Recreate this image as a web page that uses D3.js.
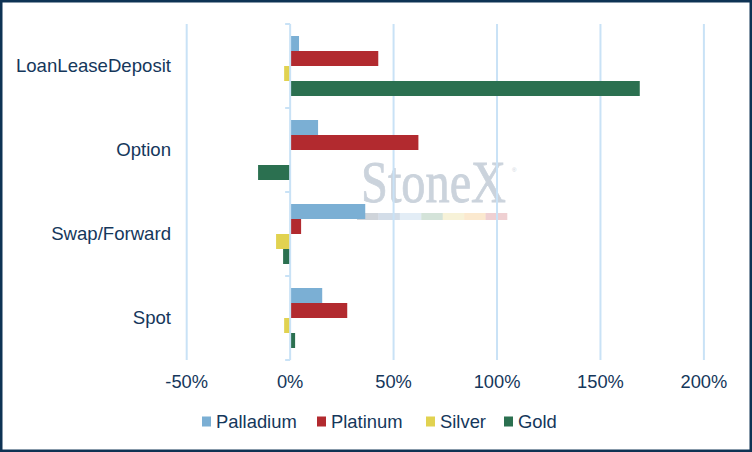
<!DOCTYPE html>
<html>
<head>
<meta charset="utf-8">
<script src="https://cdn.jsdelivr.net/npm/d3@7"></script>
<style>
  body { margin: 0; background: #fff; }
  svg { display: block; font-family: "Liberation Sans", Arial, sans-serif; }
</style>
</head>
<body>
<svg id="chart" width="752" height="452"></svg>
<script>
const categories = ["LoanLeaseDeposit", "Option", "Swap/Forward", "Spot"]
const metals = ["Palladium", "Platinum", "Silver", "Gold"]
const metalColors = ["#7bafd4", "#b22a2f", "#e1d250", "#2b7050"]

// change in %, one array per metal, in category order
const palladium = [4.3, 13.5, 36.3, 15.5]
const platinum = [42.6, 62, 5.3, 27.6]
const silver = [-2.9, 0, -6.8, -2.9]
const gold = [169, -15.5, -3.4, 2.4]

const xTicks = [-50, 0, 50, 100, 150, 200]

const series = [palladium, platinum, silver, gold]

const navy = "#15375b"
const gridColor = "#c9e2f6"

const svg = d3.select("#chart")

const x = d3.scaleLinear().domain([-50, 200]).range([186.7, 703.9])
const y = d3.scaleBand().domain(categories).range([24, 360])
const ySub = d3.scaleBand().domain(metals).range([12, 72])

// watermark, sits behind grid and bars
const wm = svg.append("g").attr("class", "watermark")
wm.append("text")
  .attr("x", 361).attr("y", 202)
  .attr("font-family", "'Liberation Serif', 'Times New Roman', serif")
  .attr("font-size", 59)
  .attr("textLength", 145)
  .attr("lengthAdjust", "spacingAndGlyphs")
  .attr("fill", "#cbd3dc")
  .attr("stroke", "#cbd3dc")
  .attr("stroke-width", 0.8)
  .text("StoneX")
wm.append("text")
  .attr("x", 512).attr("y", 172)
  .attr("font-size", 6)
  .attr("fill", "#cbd3dc")
  .text("®")
const stripe = ["#cfd4da", "#d3dde8", "#e3edf6", "#d4e3d9", "#f7f2d8", "#fbe9cf", "#efd0d2"]
wm.selectAll("rect")
  .data(stripe)
  .join("rect")
    .attr("x", (d, i) => 357 + i * 150 / 7)
    .attr("y", 213)
    .attr("width", 150 / 7 + 0.3)
    .attr("height", 7)
    .attr("fill", d => d)

// vertical gridlines
svg.append("g")
  .selectAll("line")
  .data(xTicks.filter(d => d !== 0))
  .join("line")
    .attr("x1", d => x(d)).attr("x2", d => x(d))
    .attr("y1", 24).attr("y2", 360)
    .attr("stroke", gridColor)
    .attr("stroke-width", 2)

// bars
const rows = []
categories.forEach((c, ci) => {
  metals.forEach((m, mi) => {
    rows.push({ cat: c, metal: m, value: series[mi][ci], color: metalColors[mi] })
  })
})

svg.append("g")
  .selectAll("rect")
  .data(rows.filter(d => d.value !== 0))
  .join("rect")
    .attr("x", d => x(Math.min(0, d.value)))
    .attr("y", d => y(d.cat) + ySub(d.metal))
    .attr("width", d => Math.abs(x(d.value) - x(0)))
    .attr("height", ySub.bandwidth())
    .attr("fill", d => d.color)

// category axis at zero
const yAxis = svg.append("g")
  .attr("transform", `translate(${x(0)},0)`)
yAxis.append("line")
  .attr("x1", 0).attr("x2", 0)
  .attr("y1", 24).attr("y2", 360)
  .attr("stroke", gridColor).attr("stroke-width", 2)
yAxis.selectAll("line.tick")
  .data([24, ...categories.map(c => y(c) + y.bandwidth())])
  .join("line")
    .attr("class", "tick")
    .attr("x1", -5).attr("x2", 0)
    .attr("y1", d => d).attr("y2", d => d)
    .attr("stroke", gridColor).attr("stroke-width", 2)

svg.append("g")
  .selectAll("text")
  .data(categories)
  .join("text")
    .attr("x", 171)
    .attr("y", d => y(d) + y.bandwidth() / 2 + 6.3)
    .attr("text-anchor", "end")
    .attr("font-size", 18.6)
    .attr("fill", navy)
    .text(d => d)

// x tick labels
svg.append("g")
  .selectAll("text")
  .data(xTicks)
  .join("text")
    .attr("x", d => x(d))
    .attr("y", 388)
    .attr("text-anchor", "middle")
    .attr("font-size", 18.3)
    .attr("fill", navy)
    .text(d => d + "%")

// legend
const legendX = [202, 317, 426, 504]
const lg = svg.append("g")
  .selectAll("g")
  .data(metals)
  .join("g")
    .attr("transform", (d, i) => `translate(${legendX[i]},0)`)
lg.append("rect")
  .attr("x", 0).attr("y", 416.5)
  .attr("width", 9).attr("height", 10)
  .attr("fill", (d, i) => metalColors[i])
lg.append("text")
  .attr("x", 14).attr("y", 428)
  .attr("font-size", 18.4)
  .attr("fill", navy)
  .text(d => d)

// outer border
svg.append("rect")
  .attr("x", 1.25).attr("y", 1.25)
  .attr("width", 749.5).attr("height", 449.5)
  .attr("fill", "none")
  .attr("stroke", "#0e3354")
  .attr("stroke-width", 2.5)
</script>
</body>
</html>
